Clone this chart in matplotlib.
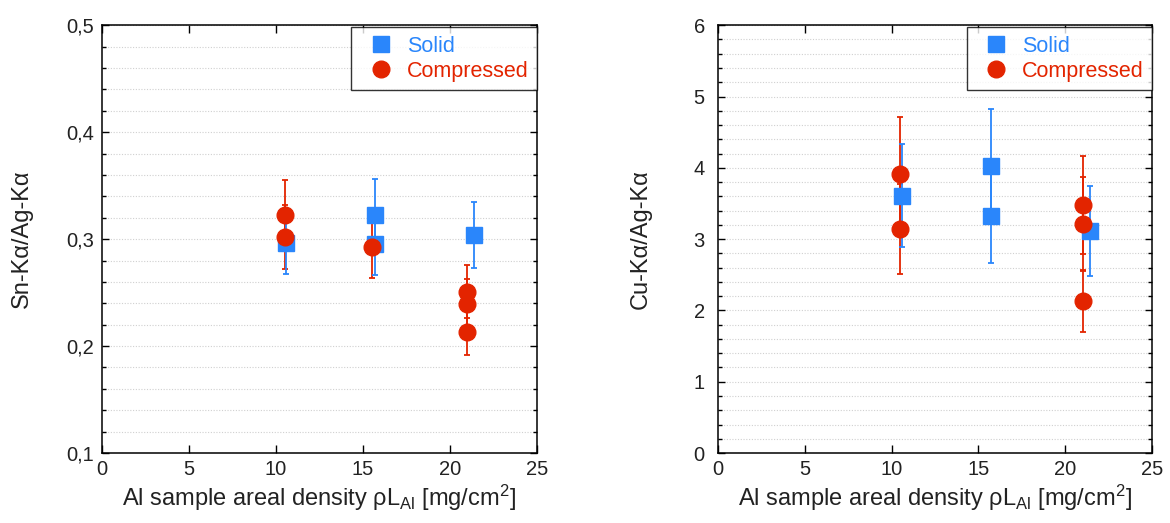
import matplotlib
matplotlib.use("Agg")
import matplotlib.pyplot as plt
from matplotlib.lines import Line2D
from matplotlib.ticker import MultipleLocator, FuncFormatter

plt.rcParams['font.family'] = ['Liberation Sans', 'DejaVu Sans']
plt.rcParams['mathtext.default'] = 'regular'

# ---- data: Sn-Ka/Ag-Ka (left panel) ----
solid_x_sn = [10.6, 15.7, 15.7, 21.4]
solid_y_sn = [0.296, 0.323, 0.295, 0.304]
solid_err_sn = [0.029, 0.033, 0.029, 0.031]
comp_x_sn = [10.5, 10.5, 15.5, 21.0, 21.0, 21.0]
comp_y_sn = [0.323, 0.302, 0.293, 0.251, 0.239, 0.213]
comp_err_sn = [0.032, 0.030, 0.029, 0.025, 0.024, 0.021]

# ---- data: Cu-Ka/Ag-Ka (right panel) ----
solid_x_cu = [10.6, 15.7, 15.7, 21.4]
solid_y_cu = [3.61, 4.02, 3.32, 3.11]
solid_err_cu = [0.72, 0.80, 0.66, 0.63]
comp_x_cu = [10.5, 10.5, 21.0, 21.0, 21.0]
comp_y_cu = [3.92, 3.14, 3.48, 3.21, 2.13]
comp_err_cu = [0.79, 0.63, 0.69, 0.66, 0.43]

legend_labels = ["Solid", "Compressed"]
xlabel = r"Al sample areal density $\rho$L$_{Al}$ [mg/cm$^{2}$]"
ylabels = ["Sn-K\u03b1/Ag-K\u03b1", "Cu-K\u03b1/Ag-K\u03b1"]

BLUE = "#2a86fb"
RED = "#e32400"
TEXT = "#222222"

fig = plt.figure(figsize=(11.7, 5.23), dpi=100)
ax1 = fig.add_axes([0.0872, 0.1338, 0.3715, 0.818])
ax2 = fig.add_axes([0.6137, 0.1338, 0.3710, 0.818])

def comma_fmt(decimals):
    def f(v, pos):
        s = f"{v:.{decimals}f}"
        return s.replace(".", ",")
    return f

def draw(ax, sx, sy, se, cx, cy, ce, ylim, major, minor, decimals, ylabel,
         ypad, ylab_x):
    ax.errorbar(cx, cy, yerr=ce, fmt='none', ecolor=RED, elinewidth=1.3,
                capsize=2.5, capthick=1.3, zorder=2)
    ax.errorbar(sx, sy, yerr=se, fmt='none', ecolor=BLUE, elinewidth=1.3,
                capsize=2.5, capthick=1.3, zorder=2)
    ax.plot(sx, sy, linestyle='none', marker='s', markersize=11.5,
            color=BLUE, markeredgecolor=BLUE, zorder=3)
    ax.plot(cx, cy, linestyle='none', marker='o', markersize=12,
            color=RED, markeredgecolor=RED, zorder=4)
    ax.set_xlim(0, 25)
    ax.set_ylim(*ylim)
    ax.xaxis.set_major_locator(MultipleLocator(5))
    ax.yaxis.set_major_locator(MultipleLocator(major))
    ax.yaxis.set_minor_locator(MultipleLocator(minor))
    ax.yaxis.set_major_formatter(FuncFormatter(comma_fmt(decimals)))
    ax.grid(True, axis='y', which='both', linestyle=(0, (1, 1.5)),
            color='#d0d0d0', linewidth=0.8)
    ax.set_axisbelow(True)
    ax.tick_params(axis='both', which='both', direction='in', top=True,
                   right=True, labelsize=14.5, width=1, color='black',
                   labelcolor=TEXT)
    ax.tick_params(axis='y', which='major', length=5, pad=ypad)
    ax.tick_params(axis='y', which='minor', length=3)
    ax.tick_params(axis='x', which='major', length=6, pad=5)
    for sp in ax.spines.values():
        sp.set_linewidth(1.1)
    ax.set_xlabel(xlabel, fontsize=17, labelpad=3, color=TEXT)
    ax.set_ylabel(ylabel, fontsize=17, color=TEXT)
    ax.yaxis.set_label_coords(ylab_x, 0.5)
    handles = [Line2D([], [], linestyle='none', marker='s', markersize=11.5, color=BLUE),
               Line2D([], [], linestyle='none', marker='o', markersize=12, color=RED)]
    leg = ax.legend(handles, legend_labels, loc='upper right', borderaxespad=0,
                    fontsize=15.5, frameon=True, fancybox=False, edgecolor='black',
                    handletextpad=0.2, borderpad=0.38, labelspacing=0.2,
                    handlelength=2.0, bbox_to_anchor=(1.0, 0.995))
    leg.get_frame().set_linewidth(1.0)
    leg.set_zorder(10)
    for t, c in zip(leg.get_texts(), [BLUE, RED]):
        t.set_color(c)

draw(ax1, solid_x_sn, solid_y_sn, solid_err_sn, comp_x_sn, comp_y_sn, comp_err_sn,
     (0.1, 0.5), 0.1, 0.02, 1, ylabels[0], 6, -0.16)
draw(ax2, solid_x_cu, solid_y_cu, solid_err_cu, comp_x_cu, comp_y_cu, comp_err_cu,
     (0, 6), 1, 0.2, 0, ylabels[1], 9.5, -0.152)

fig.savefig("out.png", dpi=100)
